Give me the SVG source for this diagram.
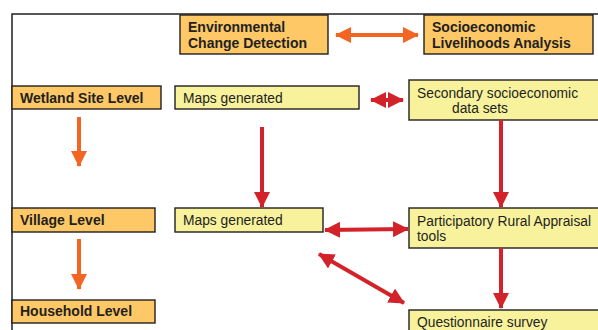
<svg xmlns="http://www.w3.org/2000/svg" width="598" height="330" viewBox="0 0 598 330">
<defs>
<style>
.frame{fill:none;stroke:#231F20;stroke-width:1.5}
.hdr{fill:#FDC865;stroke:#231F20;stroke-width:1.4}
.lvl{fill:#FDC865;stroke:#231F20;stroke-width:1.4}
.itm{fill:#F8F29D;stroke:#231F20;stroke-width:1.4}
.tb{font-family:"Liberation Sans",Arial,sans-serif;font-weight:bold;font-size:14px;fill:#231F20}
.tr{font-family:"Liberation Sans",Arial,sans-serif;font-size:13.8px;fill:#231F20}
.oa{stroke:#F26522;stroke-width:4;fill:none}
.ra{stroke:#D2232A;stroke-width:4;fill:none}
</style>
<marker id="oh" markerUnits="userSpaceOnUse" markerWidth="16" markerHeight="18" refX="15" refY="8" orient="auto-start-reverse" viewBox="0 0 16 16">
<path d="M0,0 L16,8 L0,16 Z" fill="#F26522"/>
</marker>
<marker id="rh" markerUnits="userSpaceOnUse" markerWidth="16" markerHeight="16" refX="15" refY="8" orient="auto-start-reverse" viewBox="0 0 16 16">
<path d="M0,0 L16,8 L0,16 Z" fill="#D2232A"/>
</marker>
</defs>
<rect width="598" height="330" fill="#FFFFFF"/>
<path class="frame" d="M12,330 L12,14 L598,14"/>

<g id="env">
<rect class="hdr" x="180" y="15" width="148" height="39"/>
<text class="tb" x="188" y="32">Environmental</text>
<text class="tb" x="188" y="48">Change Detection</text>
</g>
<g id="socio">
<rect class="hdr" x="424" y="15" width="169" height="39"/>
<text class="tb" x="432" y="32">Socioeconomic</text>
<text class="tb" x="432" y="48">Livelihoods Analysis</text>
</g>
<g id="wetland">
<rect class="lvl" x="12" y="86" width="149" height="23"/>
<text class="tb" x="20" y="103">Wetland Site Level</text>
</g>
<g id="maps1">
<rect class="itm" x="175" y="86" width="184" height="23"/>
<text class="tr" x="183" y="103">Maps generated</text>
</g>
<g id="secondary">
<rect class="itm" x="409" y="80" width="192" height="40"/>
<text class="tr" x="417" y="98">Secondary socioeconomic</text>
<text class="tr" x="452" y="113">data sets</text>
</g>
<g id="village">
<rect class="lvl" x="12" y="208" width="143" height="24"/>
<text class="tb" x="20" y="225">Village Level</text>
</g>
<g id="maps2">
<rect class="itm" x="175" y="208" width="148" height="24"/>
<text class="tr" x="183" y="225">Maps generated</text>
</g>
<g id="pra">
<rect class="itm" x="409" y="208" width="192" height="40"/>
<text class="tr" x="417" y="226">Participatory Rural Appraisal</text>
<text class="tr" x="417" y="241">tools</text>
</g>
<g id="household">
<rect class="lvl" x="12" y="300" width="143" height="23"/>
<text class="tb" x="20" y="316">Household Level</text>
</g>
<g id="questionnaire">
<rect class="itm" x="409" y="310" width="192" height="30"/>
<text class="tr" x="417" y="327">Questionnaire survey</text>
</g>

<g id="connectors">
<line class="oa" x1="336" y1="35" x2="418" y2="35" marker-start="url(#oh)" marker-end="url(#oh)"/>
<line class="ra" x1="371" y1="100" x2="403" y2="100" marker-start="url(#rh)" marker-end="url(#rh)"/>
<line class="oa" x1="79" y1="117" x2="79" y2="166" marker-end="url(#oh)"/>
<line class="oa" x1="79" y1="239" x2="79" y2="289" marker-end="url(#oh)"/>
<line class="ra" x1="262" y1="127" x2="262" y2="207" marker-end="url(#rh)"/>
<line class="ra" x1="501" y1="120" x2="501" y2="207" marker-end="url(#rh)"/>
<line class="ra" x1="325" y1="230" x2="408" y2="229" marker-start="url(#rh)" marker-end="url(#rh)"/>
<line class="ra" x1="501" y1="248" x2="501" y2="308" marker-end="url(#rh)"/>
<line class="ra" x1="319" y1="254" x2="404" y2="303" marker-start="url(#rh)" marker-end="url(#rh)"/>
</g>
</svg>
